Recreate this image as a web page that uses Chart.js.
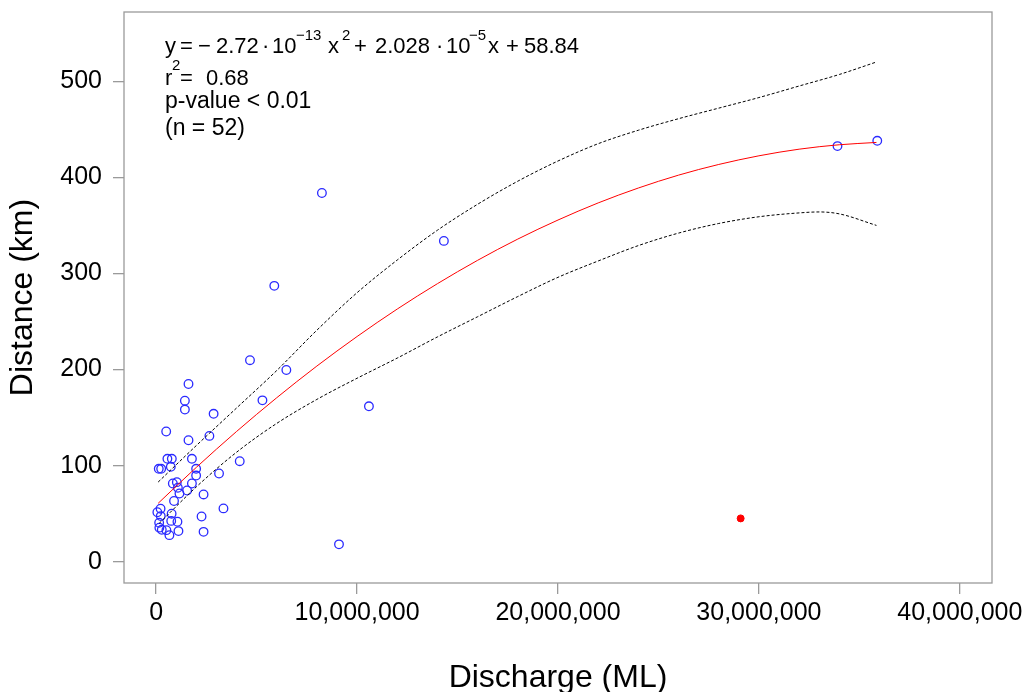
<!DOCTYPE html>
<html>
<head>
<meta charset="utf-8">
<script src="https://cdn.jsdelivr.net/npm/chart.js@4.4.1/dist/chart.umd.min.js"></script>
<style>
html,body{margin:0;padding:0;background:#fff;}
#wrap{width:1027px;height:692px;position:relative;}
</style>
</head>
<body>
<div id="wrap"><canvas id="c"></canvas></div>
<script>
// Observed sites: discharge (ML) and distance (km)
const dischargeML = [8.25e6,14.32e6,5.88e6,4.67e6,6.48e6,5.29e6,10.59e6,4.16e6,9.10e6,33.91e6,35.89e6,2.86e6,2.65e6,
  1.61e6,1.43e6,1.43e6,0.50e6,1.61e6,0.56e6,0.78e6,1.78e6,0.73e6,0.13e6,0.25e6,1.99e6,1.99e6,3.13e6,0.83e6,1.03e6,
  1.78e6,1.08e6,1.16e6,1.54e6,2.36e6,0.89e6,0.22e6,0.06e6,0.77e6,3.35e6,0.23e6,2.26e6,0.75e6,1.06e6,0.15e6,0.16e6,
  0.28e6,0.51e6,1.11e6,2.36e6,0.66e6];
const distanceKm = [383.7,333.9,287.1,209.8,199.6,168.0,161.8,104.7,18.2,432.5,438.0,154.0,131.0,
  185.0,167.7,158.4,135.6,126.5,107.2,107.2,107.2,98.9,96.8,96.8,96.8,89.8,91.9,81.5,82.9,
  81.5,77.1,71.1,74.2,70.1,63.3,55.3,51.6,50.1,55.6,47.6,47.2,42.6,41.7,40.7,35.6,
  33.4,33.0,32.0,31.2,27.8];
// Excluded outlier (red filled)
const outlierML = [29.09e6];
const outlierKm = [45.2];

// Fitted quadratic curve
const fitML = [0.1e6,2e6,4e6,6e6,8e6,10e6,12e6,14e6,16e6,18e6,20e6,22e6,24e6,26e6,28e6,30e6,32e6,34e6,35.85e6];
const fitKm = [60.9,98.3,135.6,170.7,203.7,234.4,263.0,289.4,313.7,335.8,355.6,373.4,388.9,402.3,413.4,422.4,429.3,433.9,436.3];
// Upper and lower confidence bands
const upperML = [0.1e6,2e6,4e6,6e6,8e6,10e6,12e6,14e6,16e6,18e6,20e6,22e6,24e6,26e6,28e6,30e6,32e6,34e6,35.85e6];
const upperKm = [83,121,160,199,241,280,314,345,372,396,417,435,449,461,472,483,495,507,520];
const lowerML = [0.15e6,2e6,4e6,6e6,8e6,10e6,12e6,14e6,16e6,18e6,20e6,22e6,24e6,26e6,28e6,30e6,32e6,33e6,34e6,35.85e6];
const lowerKm = [40,78,114,144,169,191,212,234,255,276,296,313,329,342,352,359,363,364,362,350];

const xTicks = [0,10000000,20000000,30000000,40000000];
const yTicks = [0,100,200,300,400,500];

const pts = (xs, ys) => xs.map((x,i)=>({x:x, y:ys[i]}));
const FONT = '"Liberation Sans", Arial, sans-serif';

const boxPlugin = {
  id:'box',
  beforeDatasetsDraw(chart){
    const a = chart.chartArea, ctx = chart.ctx;
    ctx.save();
    ctx.strokeStyle = '#9a9a9a';
    ctx.lineWidth = 1.3;
    ctx.strokeRect(a.left, a.top, a.right-a.left, a.bottom-a.top);
    ctx.restore();
  },
  afterDraw(chart){
    const ctx = chart.ctx;
    ctx.save();
    ctx.fillStyle = '#000';
    ctx.textBaseline = 'alphabetic';
    const main = '22px ' + FONT, sup = '15px ' + FONT, big = '23px ' + FONT;
    const put = (t, x, y, f) => { ctx.font = f; ctx.fillText(t, x, y); };
    // equation line
    const b = 53, sb = 40;
    put('y', 165, b, main);
    put('=', 180, b, main);
    put('\u2212', 198, b, main);
    put('2.72', 216, b, main);
    put('\u00b7', 262, b, main);
    put('10', 272, b, main);
    put('\u221213', 296, sb, sup);
    put('x', 328, b, main);
    put('2', 342, sb, sup);
    put('+', 354, b, main);
    put('2.028', 375, b, main);
    put('\u00b7', 436, b, main);
    put('10', 446, b, main);
    put('\u22125', 469, sb, sup);
    put('x', 488, b, main);
    put('+', 506, b, main);
    put('58.84', 524, b, main);
    // r^2 line
    put('r', 165, 85, main);
    put('2', 172, 70, sup);
    put('=', 180, 85, main);
    put('0.68', 206, 85, main);
    put('p-value < 0.01', 165, 108, big);
    put('(n = 52)', 165, 135, big);
    ctx.restore();
  }
};

new Chart(document.getElementById('c'), {
  type:'scatter',
  data:{
    datasets:[
      {label:'upper', data:pts(upperML, upperKm), showLine:true, borderColor:'#000', borderWidth:1, borderDash:[3,2], pointRadius:0, cubicInterpolationMode:'monotone', fill:false},
      {label:'lower', data:pts(lowerML, lowerKm), showLine:true, borderColor:'#000', borderWidth:1, borderDash:[3,2], pointRadius:0, cubicInterpolationMode:'monotone', fill:false},
      {label:'fit', data:pts(fitML, fitKm), showLine:true, borderColor:'#ff0000', borderWidth:1, pointRadius:0, cubicInterpolationMode:'monotone', fill:false},
      {label:'sites', data:pts(dischargeML, distanceKm), pointStyle:'circle', pointRadius:4.3, pointBorderWidth:1.3, pointBorderColor:'#2a2aff', pointBackgroundColor:'rgba(0,0,0,0)', showLine:false},
      {label:'outlier', data:pts(outlierML, outlierKm), pointStyle:'circle', pointRadius:3.5, pointBorderWidth:1, pointBorderColor:'#ff0000', pointBackgroundColor:'#ff0000', showLine:false}
    ]
  },
  options:{
    responsive:true, maintainAspectRatio:false, animation:false,
    layout:{padding:{top:12, right:35, left:0, bottom:0}},
    plugins:{legend:{display:false}, tooltip:{enabled:false}},
    scales:{
      x:{
        type:'linear', min:-1600000, max:41600000,
        afterBuildTicks(s){ s.ticks = xTicks.map(v=>({value:v})); },
        afterFit(s){ s.height = 109; s.paddingLeft = 0; s.paddingRight = 0; },
        border:{display:false},
        grid:{drawOnChartArea:false, drawTicks:true, tickLength:11, color:'#9a9a9a', lineWidth:1.3},
        ticks:{color:'#000', font:{family:FONT, size:25}, padding:4, maxRotation:0, autoSkip:false,
          callback:(v)=>Number(v).toLocaleString('en-US')},
        title:{display:true, text:'Discharge (ML)', color:'#000', font:{family:FONT, size:32, lineHeight:0.875}, padding:{top:0,bottom:0}}
      },
      y:{
        type:'linear', min:-22, max:572,
        afterBuildTicks(s){ s.ticks = yTicks.map(v=>({value:v})); },
        afterFit(s){ s.width = 124; s.paddingTop = 0; s.paddingBottom = 0; },
        border:{display:false},
        grid:{drawOnChartArea:false, drawTicks:true, tickLength:11, color:'#9a9a9a', lineWidth:1.3},
        ticks:{color:'#000', font:{family:FONT, size:25}, padding:11, autoSkip:false},
        title:{display:true, text:'Distance (km)', color:'#000', font:{family:FONT, size:32, lineHeight:1.0}, padding:{top:7,bottom:0}}
      }
    }
  },
  plugins:[boxPlugin]
});
</script>
</body>
</html>
